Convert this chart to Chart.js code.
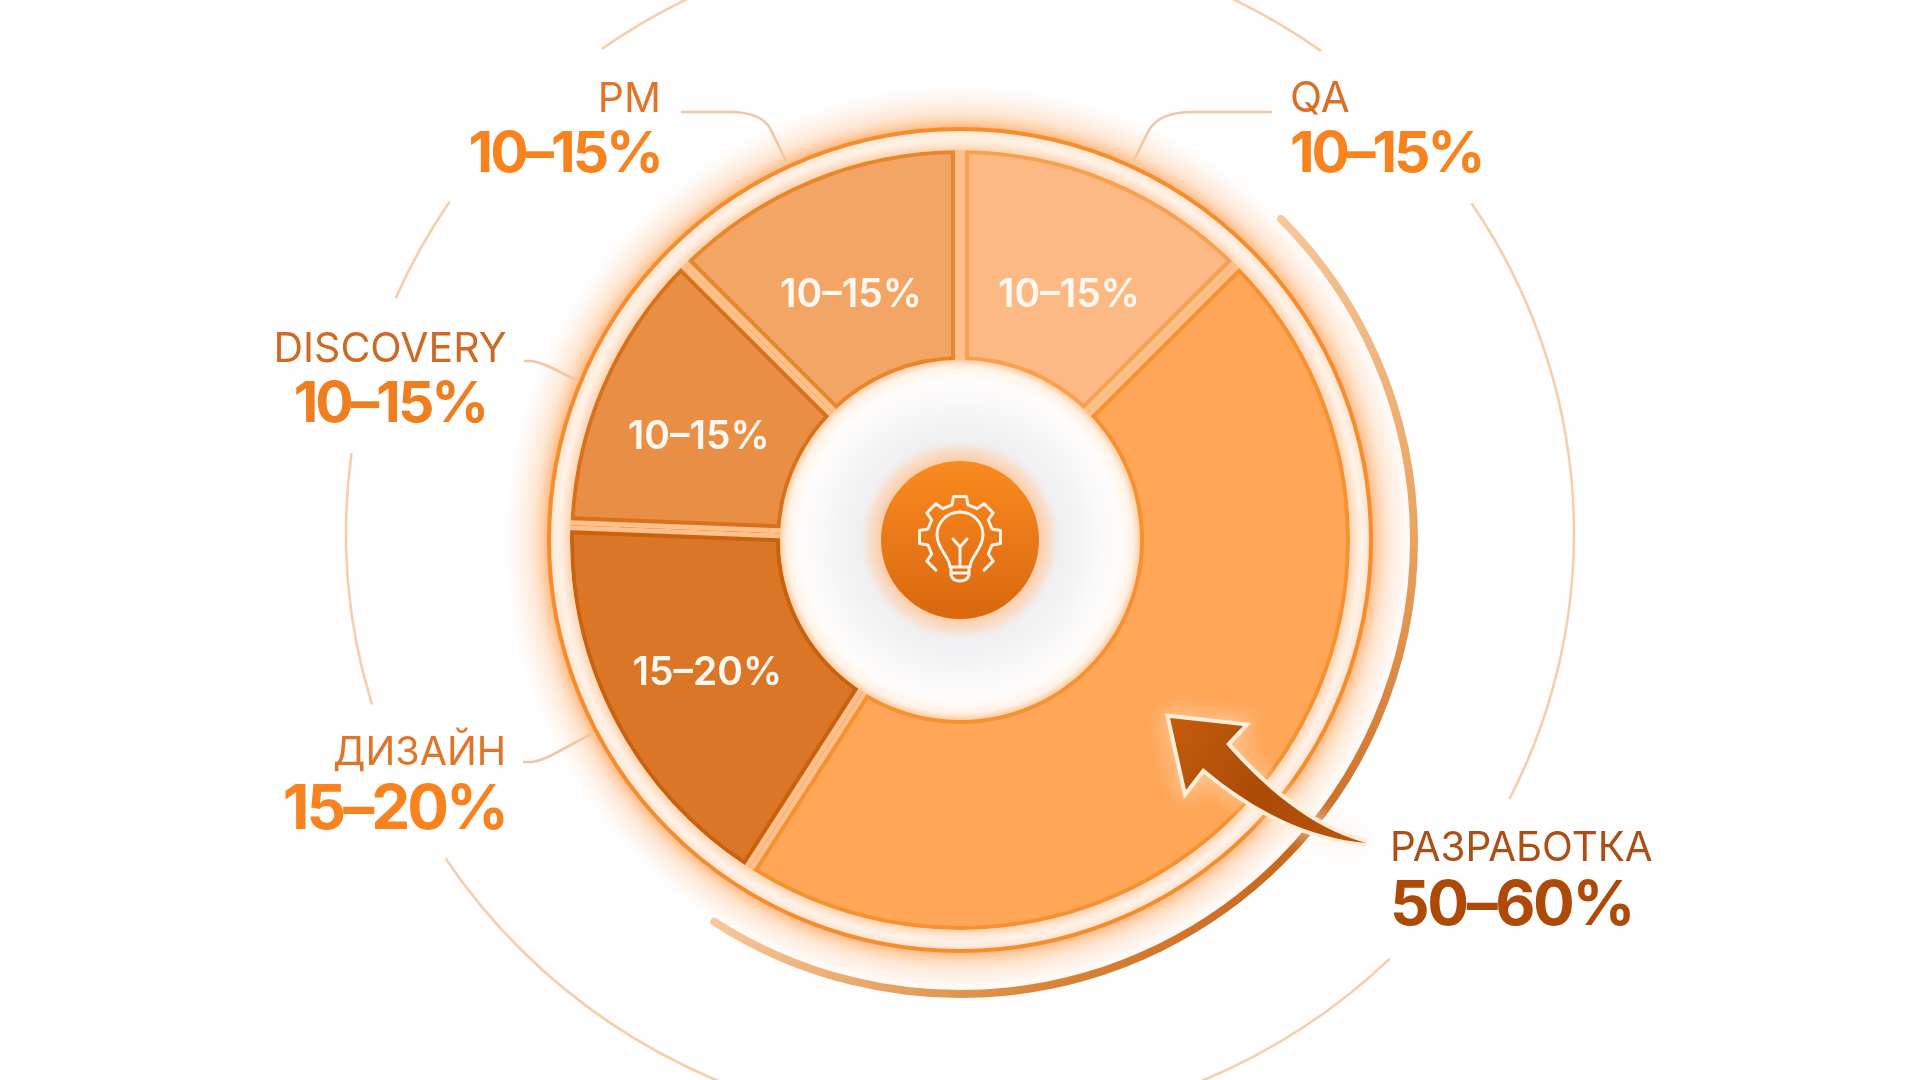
<!DOCTYPE html>
<html>
<head>
<meta charset="utf-8">
<title>Распределение бюджета</title>
<script src="https://cdn.jsdelivr.net/npm/chart.js@4/dist/chart.umd.min.js"></script>
<style>
  html, body { margin: 0; background: #fefefe; overflow: hidden; }
  canvas { display: block; }
</style>
</head>
<body>
<canvas id="myCanvas" width="1920" height="1080"></canvas>
<script>
var categories = ["QA", "РАЗРАБОТКА", "ДИЗАЙН", "DISCOVERY", "PM"]
var rangeLabels = ["10–15%", "50–60%", "15–20%", "10–15%", "10–15%"]
// slice sizes, in percent of the circle
var shares = [12.5, 46.6, 16.5, 11.9, 12.5]

var fillColors = ["#fdb983", "#ffa657", "#db7626", "#e88e45", "#f2a564"]
var edgeColors = ["#f9a050", "#f7902f", "#c9620f", "#d9711c", "#e8862c"]
var nameColors = ["#d9702a", "#ab4e17", "#e0752a", "#cc6a26", "#e0752a"]
var rangeColors = ["#f8831e", "#ae4a08", "#f8831e", "#ef7f1e", "#f8831e"]

// where the outside captions sit: [x, name baseline, range baseline, align, name px, range px, tracking]
var captions = [
  [1290, 112, 172, "left", 42, 57, -3],
  [1390, 861, 925, "left", 40.3, 62, -2.4],
  [506, 765, 829, "right", 39.5, 62, -3],
  [390, 362, 422, "center", 41, 57, -3],
  [661, 112, 172, "right", 41, 57, -3]
]
// leader lines: start, where the corner begins, corner, where it ends, end on the ring
var leaders = [
  [[1272, 112], [1192, 112], [1160, 112], [1149, 130], [1132, 164]],
  [[523, 762], [532, 762], [540, 761], [552, 755], [595, 732]],
  [[524, 361], [532, 361], [538, 362], [550, 367], [578, 381]],
  [[681, 112], [730, 112], [762, 112], [771, 130], [788, 165]]
]
// broken thin ellipse, degrees clockwise from the right
var thinArcs = [[-33.6, 26.5], [45.6, 146.9], [163.3, 187.7], [203.2, 213.8], [234.3, 306]]
// vertical nudge of the value on each slice
var valueNudge = [19, 0, 2, 11, 19]

var FONT = "Inter, 'Noto Sans', sans-serif"

function rad(deg) { return (deg - 90) * Math.PI / 180 }

function drawIcon(ctx, x, y) {
  ctx.save()
  ctx.translate(x, y - 3)
  ctx.strokeStyle = "#fff4ea"
  ctx.lineWidth = 3
  ctx.lineJoin = "round"
  ctx.lineCap = "round"
  // gear outline, open at the bottom
  ctx.beginPath()
  var first = true
  for (var t = -3; t <= 3; t++) {
    var a = t * 45
    var pts = [[a - 14, 33], [a - 9, 41], [a + 9, 41], [a + 14, 33]]
    if (t == -3) pts = pts.slice(1)
    if (t == 3) pts = pts.slice(0, 3)
    pts.forEach(function (p) {
      var px = Math.cos(rad(p[0])) * p[1], py = Math.sin(rad(p[0])) * p[1]
      if (first) { ctx.moveTo(px, py); first = false } else ctx.lineTo(px, py)
    })
  }
  ctx.stroke()
  // bulb
  ctx.beginPath()
  ctx.moveTo(-10, 30)
  ctx.bezierCurveTo(-10, 20, -23, 12, -23, -2)
  ctx.arc(0, -2, 23, Math.PI, 0)
  ctx.bezierCurveTo(23, 12, 10, 20, 10, 30)
  ctx.closePath()
  ctx.moveTo(-9, 36)
  ctx.lineTo(9, 36)
  ctx.moveTo(-9, 30)
  ctx.lineTo(-9, 38)
  ctx.quadraticCurveTo(-7, 44, 0, 44)
  ctx.quadraticCurveTo(7, 44, 9, 38)
  ctx.lineTo(9, 30)
  // filament
  ctx.moveTo(0, 28)
  ctx.lineTo(0, 10)
  ctx.moveTo(-7, 2)
  ctx.lineTo(0, 10)
  ctx.lineTo(7, 2)
  ctx.stroke()
  ctx.restore()
}

function drawArrow(ctx) {
  ctx.save()
  ctx.beginPath()
  ctx.moveTo(1170, 718)
  ctx.lineTo(1243, 726)
  ctx.lineTo(1226, 744)
  ctx.bezierCurveTo(1262, 785, 1310, 828, 1366, 843)
  ctx.bezierCurveTo(1310, 838, 1255, 812, 1203, 768)
  ctx.lineTo(1186, 790)
  ctx.closePath()
  ctx.lineJoin = "miter"
  ctx.shadowColor = "rgba(255,240,222,0.9)"
  ctx.shadowBlur = 22
  ctx.strokeStyle = "#ffeeda"
  ctx.lineWidth = 8
  ctx.stroke()
  ctx.shadowBlur = 0
  var g = ctx.createLinearGradient(1170, 718, 1366, 843)
  g.addColorStop(0, "#c45c0c")
  g.addColorStop(0.5, "#ab4b08")
  g.addColorStop(1, "#bb560c")
  ctx.fillStyle = g
  ctx.fill()
  ctx.restore()
}

var R = 390, ring = 411, hole = 180

var backdrop = {
  id: "backdrop",
  beforeDatasetsDraw: function (chart) {
    var ctx = chart.ctx
    var arcs = chart.getDatasetMeta(0).data
    var cx = arcs[0].x, cy = arcs[0].y

    ctx.save()
    // thin broken ellipse
    ctx.strokeStyle = "#f3cfad"
    ctx.lineWidth = 2.6
    thinArcs.forEach(function (a) {
      ctx.beginPath()
      ctx.ellipse(cx, cy - 7, 614, 596, 0, a[0] * Math.PI / 180, a[1] * Math.PI / 180)
      ctx.stroke()
    })

    // glow outside the ring
    var glow = ctx.createRadialGradient(cx, cy, ring, cx, cy, ring + 44)
    glow.addColorStop(0, "rgba(255,170,100,0.85)")
    glow.addColorStop(0.35, "rgba(255,195,145,0.4)")
    glow.addColorStop(1, "rgba(255,220,190,0)")
    ctx.fillStyle = glow
    ctx.beginPath()
    ctx.arc(cx, cy, ring + 44, 0, Math.PI * 2)
    ctx.fill()

    // thick arc follows the biggest slice
    var big = arcs[1]
    var conic = ctx.createConicGradient(-Math.PI / 2, cx, cy)
    conic.addColorStop(0.125, "#f7c699")
    conic.addColorStop(0.25, "#e8a35f")
    conic.addColorStop(0.37, "#c7671d")
    conic.addColorStop(0.47, "#da8436")
    conic.addColorStop(0.59, "#f7c699")
    ctx.strokeStyle = conic
    ctx.lineWidth = 8
    ctx.lineCap = "round"
    ctx.beginPath()
    ctx.arc(cx, cy, 454, big.startAngle, big.endAngle)
    ctx.stroke()
    ctx.lineCap = "butt"

    // leaders from the captions to the ring
    ctx.strokeStyle = "#efc7a3"
    ctx.lineWidth = 2.6
    leaders.forEach(function (p) {
      ctx.beginPath()
      ctx.moveTo(p[0][0], p[0][1])
      ctx.lineTo(p[1][0], p[1][1])
      ctx.quadraticCurveTo(p[2][0], p[2][1], p[3][0], p[3][1])
      ctx.lineTo(p[4][0], p[4][1])
      ctx.stroke()
    })
    ctx.restore()
  },
  afterDatasetsDraw: function (chart) {
    var ctx = chart.ctx
    var arcs = chart.getDatasetMeta(0).data
    var cx = arcs[0].x, cy = arcs[0].y

    // slice edges and the even light gap between slices
    arcs.forEach(function (a, i) {
      ctx.save()
      ctx.beginPath()
      ctx.arc(a.x, a.y, a.outerRadius, a.startAngle, a.endAngle)
      ctx.arc(a.x, a.y, a.innerRadius, a.endAngle, a.startAngle, true)
      ctx.closePath()
      ctx.clip()
      ctx.lineJoin = "round"
      ctx.strokeStyle = edgeColors[i]
      ctx.lineWidth = 18
      ctx.stroke()
      ctx.strokeStyle = "#ffc08c"
      ctx.lineWidth = 10
      ctx.stroke()
      ctx.restore()
    })

    // band between slices and ring
    ctx.save()
    var band = ctx.createRadialGradient(cx, cy, R, cx, cy, ring)
    band.addColorStop(0, "#ffd5b2")
    band.addColorStop(0.5, "#fff3e9")
    band.addColorStop(1, "#ffe2ca")
    ctx.fillStyle = band
    ctx.beginPath()
    ctx.arc(cx, cy, ring, 0, Math.PI * 2)
    ctx.arc(cx, cy, R, 0, Math.PI * 2, true)
    ctx.fill()

    ctx.strokeStyle = "#f58c2e"
    ctx.lineWidth = 4
    ctx.beginPath()
    ctx.arc(cx, cy, ring, 0, Math.PI * 2)
    ctx.stroke()

    // hole with soft rim and grey halo
    var inner = ctx.createRadialGradient(cx, cy, 78, cx, cy, hole)
    inner.addColorStop(0, "#f0eff1")
    inner.addColorStop(0.3, "#f1f0f2")
    inner.addColorStop(0.6, "#faf9f9")
    inner.addColorStop(0.8, "#fffdfb")
    inner.addColorStop(0.93, "#fff3e8")
    inner.addColorStop(1, "#ffcfa6")
    ctx.fillStyle = inner
    ctx.beginPath()
    ctx.arc(cx, cy, hole, 0, Math.PI * 2)
    ctx.fill()

    // centre badge
    var halo = ctx.createRadialGradient(cx, cy, 78, cx, cy, 100)
    halo.addColorStop(0, "rgba(255,190,135,0.75)")
    halo.addColorStop(0.6, "rgba(255,205,165,0.45)")
    halo.addColorStop(1, "rgba(255,225,200,0)")
    ctx.fillStyle = halo
    ctx.beginPath()
    ctx.arc(cx, cy, 100, 0, Math.PI * 2)
    ctx.fill()
    var disc = ctx.createLinearGradient(0, cy - 78, 0, cy + 78)
    disc.addColorStop(0, "#f98a20")
    disc.addColorStop(1, "#d9680f")
    ctx.fillStyle = disc
    ctx.beginPath()
    ctx.arc(cx, cy, 79, 0, Math.PI * 2)
    ctx.fill()
    drawIcon(ctx, cx, cy)
    drawArrow(ctx)
    ctx.restore()

    // values on the slices
    ctx.save()
    ctx.fillStyle = "#fff8f0"
    ctx.font = "600 39px " + FONT
    ctx.textAlign = "center"
    ctx.textBaseline = "middle"
    arcs.forEach(function (a, i) {
      if (i == 1) return
      var mid = (a.startAngle + a.endAngle) / 2
      ctx.fillText(rangeLabels[i], cx + Math.cos(mid) * 285, cy + Math.sin(mid) * 285 + valueNudge[i])
    })
    ctx.restore()

    // captions around the chart
    ctx.save()
    ctx.textBaseline = "alphabetic"
    captions.forEach(function (c, i) {
      ctx.textAlign = c[3]
      ctx.fillStyle = nameColors[i]
      ctx.font = "400 " + c[4] + "px " + FONT
      ctx.letterSpacing = "0px"
      ctx.fillText(categories[i], c[0], c[1])
      ctx.fillStyle = rangeColors[i]
      ctx.font = "700 " + c[5] + "px " + FONT
      ctx.letterSpacing = c[6] + "px"
      ctx.fillText(rangeLabels[i], c[0], c[2])
    })
    ctx.restore()
  }
}

var ctx = document.getElementById("myCanvas")
var myChart = new Chart(ctx, {
  type: "doughnut",
  data: {
    labels: categories,
    datasets: [
      {
        data: shares,
        backgroundColor: fillColors,
        borderWidth: 0
      }
    ]
  },
  options: {
    responsive: false,
    animation: false,
    cutout: "44.3%",
    layout: { padding: 145 },
    plugins: {
      legend: { display: false },
      tooltip: { enabled: false }
    }
  },
  plugins: [backdrop]
})
</script>
</body>
</html>
